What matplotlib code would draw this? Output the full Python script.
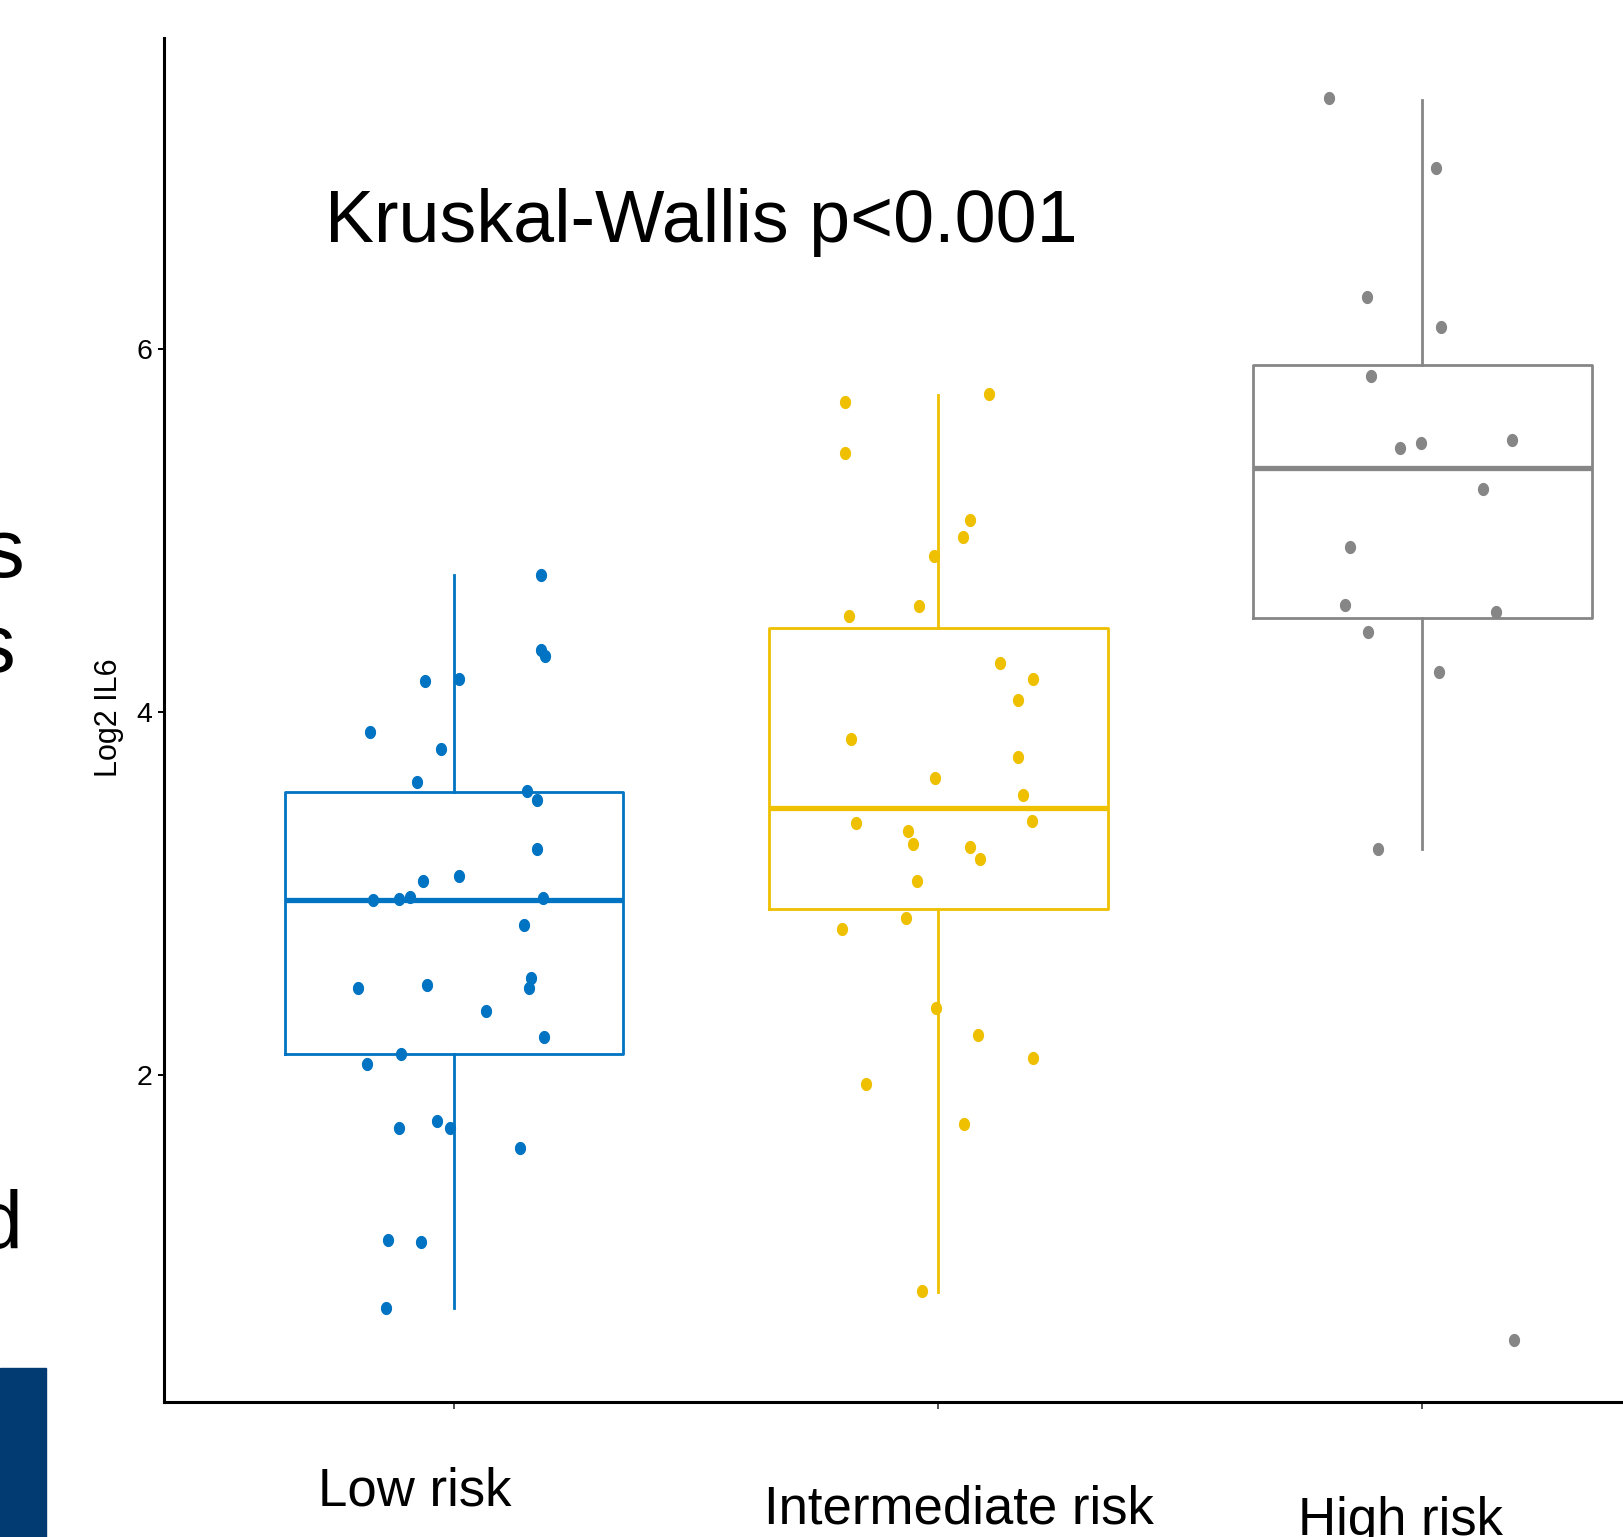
import numpy as np
import matplotlib
matplotlib.use('Agg')
import matplotlib.pyplot as plt
from matplotlib.path import Path
from matplotlib.patches import Rectangle

plt.rcParams['font.family'] = ['Liberation Sans', 'DejaVu Sans']

groups = ['Low risk', 'Intermediate risk', 'High risk']
colors = ['#0073C2', '#EFC000', '#868686']

# box stats
q1 = [2.114, 2.913, 4.516]
med = [2.964, 3.472, 5.344]
q3 = [3.558, 4.465, 5.914]
whislo = [0.716, 0.807, 3.244]
whishi = [4.756, 5.749, 7.375]

# jittered points: value and horizontal jitter
low_y = [4.756, 4.34, 4.31, 4.174, 4.18, 3.889, 3.797, 3.615, 3.563, 3.518, 3.244,
         3.096, 3.067, 2.964, 2.970, 2.981, 2.976, 2.827, 2.536, 2.479, 2.479, 2.496,
         2.354, 2.211, 2.114, 2.063, 1.709, 1.749, 1.709, 1.60, 1.093, 1.081, 0.716]
low_jit = [0.180, 0.180, 0.188, -0.060, 0.011, -0.173, -0.026, -0.077, 0.150, 0.171, 0.171,
           0.011, -0.064, -0.167, -0.113, -0.092, 0.184, 0.145, 0.158, 0.154, -0.199, -0.056,
           0.066, 0.186, -0.109, -0.180, -0.113, -0.036, -0.009, 0.137, -0.137, -0.068, -0.141]

mid_y = [5.709, 5.429, 5.755, 5.058, 4.967, 4.859, 4.585, 4.528, 4.271, 4.185, 4.066,
         3.854, 3.752, 3.638, 3.546, 3.387, 3.398, 3.347, 3.272, 3.255, 3.193, 3.067,
         2.867, 2.805, 2.371, 2.223, 2.097, 1.949, 1.732, 0.813]
mid_jit = [-0.193, -0.193, 0.105, 0.066, 0.051, -0.009, -0.039, -0.184, 0.128, 0.197, 0.165,
           -0.180, 0.165, -0.006, 0.175, -0.169, 0.195, -0.062, -0.051, 0.066, 0.086, -0.043,
           -0.066, -0.199, -0.004, 0.083, 0.197, -0.148, 0.053, -0.034]

high_y = [7.381, 6.999, 6.285, 6.12, 5.852, 5.458, 5.481, 5.498, 5.230, 4.910, 4.591,
          4.551, 4.442, 4.220, 3.244, 0.539]
high_jit = [-0.193, 0.028, -0.113, 0.039, -0.105, -0.045, -0.002, 0.186, 0.126, -0.150, -0.160,
            0.152, -0.111, 0.034, -0.092, 0.190]

W, H = 1624, 1537
fig = plt.figure(figsize=(W / 100, H / 100), dpi=100)
ax = fig.add_axes([163.6 / W, (H - 1402.4) / H, 1549 / W, 1364 / H])

stats = []
for i in range(3):
    stats.append(dict(q1=q1[i], med=med[i], q3=q3[i], whislo=whislo[i], whishi=whishi[i],
                      fliers=[]))

for i in range(3):
    ax.bxp([stats[i]], positions=[i + 1], widths=0.7, showcaps=False, showfliers=False,
           boxprops=dict(color=colors[i], linewidth=2.0),
           whiskerprops=dict(color=colors[i], linewidth=2.0),
           medianprops=dict(color=colors[i], linewidth=3.8, solid_capstyle='butt'),
           manage_ticks=False)

t = np.linspace(0, 2 * np.pi, 60)
ell = Path(np.column_stack([0.85 * np.cos(t), np.sin(t)]))

for i, (ys, js) in enumerate([(low_y, low_jit), (mid_y, mid_jit), (high_y, high_jit)]):
    ax.scatter(np.array(js) + i + 1, ys, s=90, marker=ell, color=colors[i],
               linewidths=0, zorder=3)

ax.set_xlim(0.4, 3.6)
ax.set_ylim(0.197, 7.712)
for s in ['top', 'right']:
    ax.spines[s].set_visible(False)
for s in ['left', 'bottom']:
    ax.spines[s].set_linewidth(2.2)
    ax.spines[s].set_color('black')

ax.set_yticks([2, 4, 6])
ax.set_xticks([1, 2, 3])
ax.set_xticklabels([])
ax.tick_params(axis='y', labelsize=20.5, length=4.5, width=1.4, pad=3.5)
ax.tick_params(axis='x', length=5, width=1.2, color='#333333')

fig.text(109 / W, 1 - 718 / H, 'Log2 IL6', rotation=90, fontsize=22,
         ha='center', va='center')

fig.text(325 / W, 1 - 242 / H, 'Kruskal-Wallis p<0.001', fontsize=53,
         ha='left', va='baseline')

# category labels sit at slightly different heights in the original
lab_x = [415, 959, 1400]
lab_base = [1505, 1523, 1535]
for g, x, b in zip(groups, lab_x, lab_base):
    fig.text(x / W, 1 - b / H, g, fontsize=38, ha='center', va='baseline')

# bits of the neighbouring panel cut off at the left edge
fig.text(24 / W, 1 - 577 / H, 's', fontsize=60, ha='right', va='baseline')
fig.text(15 / W, 1 - 672 / H, 's', fontsize=60, ha='right', va='baseline')
fig.text(22 / W, 1 - 1248 / H, 'd', fontsize=58, ha='right', va='baseline')
fig.patches.append(Rectangle((0, 0), 45.7 / W, (H - 1368) / H, transform=fig.transFigure,
                             color='#013B71', zorder=5))

fig.savefig('out.png', dpi=100)
